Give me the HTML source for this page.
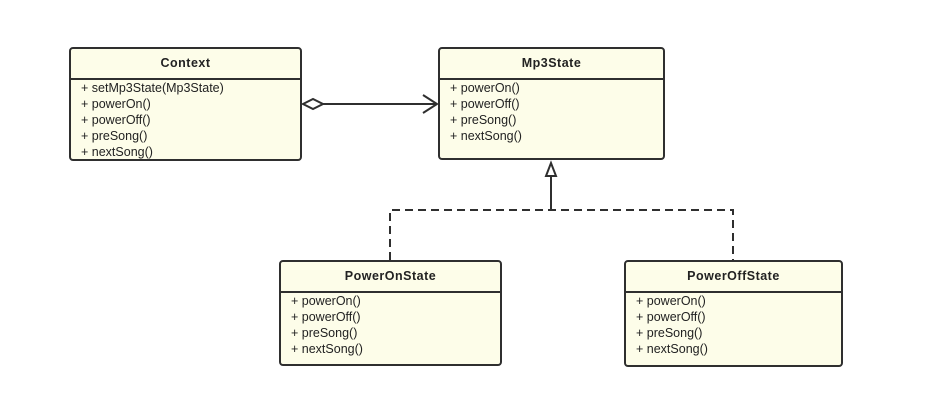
<!DOCTYPE html>
<html><head><meta charset="utf-8"><style>
html,body{margin:0;padding:0;background:#fff;width:937px;height:406px;overflow:hidden}
.box{position:absolute;background:#fdfde9;border:2px solid #2f2f2f;border-radius:4px;box-sizing:border-box;font-family:"Liberation Sans",sans-serif;color:#222}
.hd{height:29px;border-bottom:2px solid #2f2f2f;font-weight:bold;font-size:12.5px;text-align:center;line-height:29px;letter-spacing:0.5px}
.bd{padding:0 0 0 10px;font-size:12.5px;line-height:16px}
svg{position:absolute;left:0;top:0}
</style></head><body>
<svg width="937" height="406">
<g stroke="#2f2f2f" stroke-width="2" fill="none">
<polygon points="303,104 313,99 323,104 313,109" fill="#fff"/>
<line x1="323" y1="104" x2="437" y2="104"/>
<polyline points="423,95 437,104 423,113"/>
<line x1="551" y1="176" x2="551" y2="210"/>
<polygon points="551,163 546,176 556,176" fill="#fff"/>
<path d="M390,260 V210 H733 V260" stroke-dasharray="8,5"/>
</g>
</svg>
<div class="box" style="left:69px;top:47px;width:233px;height:114px"><div class="hd">Context</div><div class="bd">+ setMp3State(Mp3State)<br>+ powerOn()<br>+ powerOff()<br>+ preSong()<br>+ nextSong()</div></div>
<div class="box" style="left:438px;top:47px;width:227px;height:113px"><div class="hd">Mp3State</div><div class="bd">+ powerOn()<br>+ powerOff()<br>+ preSong()<br>+ nextSong()</div></div>
<div class="box" style="left:279px;top:260px;width:223px;height:106px"><div class="hd">PowerOnState</div><div class="bd">+ powerOn()<br>+ powerOff()<br>+ preSong()<br>+ nextSong()</div></div>
<div class="box" style="left:624px;top:260px;width:219px;height:107px"><div class="hd">PowerOffState</div><div class="bd">+ powerOn()<br>+ powerOff()<br>+ preSong()<br>+ nextSong()</div></div>
</body></html>
